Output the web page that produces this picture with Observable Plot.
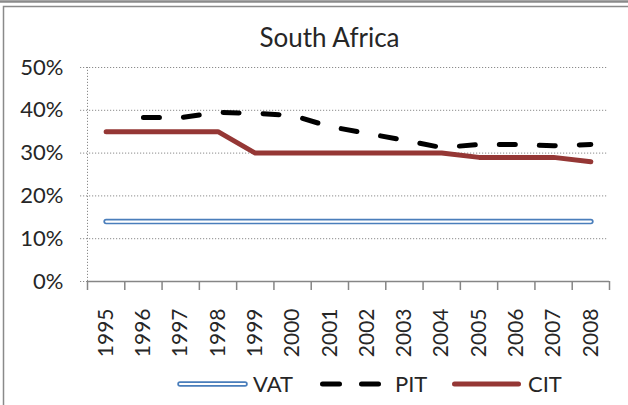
<!DOCTYPE html>
<html><head><meta charset="utf-8">
<script src="https://cdn.jsdelivr.net/npm/d3@7"></script>
<script src="https://cdn.jsdelivr.net/npm/@observablehq/plot@0.6"></script>
<style>
body{margin:0;background:#fff}
#chart svg{display:block}
</style>
</head><body><div id="chart"></div>
<script>
const title = "South Africa";
const years = [1995,1996,1997,1998,1999,2000,2001,2002,2003,2004,2005,2006,2007,2008];
const vat = [14,14,14,14,14,14,14,14,14,14,14,14,14,14];
const pit = [null,38.3,38.3,39.5,39.3,38.8,36.2,34.6,33.0,31.3,32.0,32.0,31.7,32.0];
const cit = [35,35,35,35,30,30,30,30,30,30,29,29,29,28];
const yTicks = [0,10,20,30,40,50];
const seriesNames = ["VAT","PIT","CIT"];

const rows = years.map((y,i)=>({year:y, vat:vat[i], pit:pit[i], cit:cit[i]}));
const bounds = [years[0]-0.5, ...years.map(y=>y+0.5)];
const FONT = "Lato, 'Open Sans', sans-serif";
const TXT = "#262626";
const BLUE = "#4A7EBB", RED = "#953735";

const chart = Plot.plot({
  width: 628, height: 405,
  marginLeft: 87, marginRight: 19, marginTop: 67, marginBottom: 124,
  style: {fontFamily: FONT, background: "#fff", color: TXT},
  x: {type: "linear", domain: [bounds[0], bounds[bounds.length-1]], label: null},
  y: {domain: [0, 50], label: null},
  marks: [
    Plot.ruleY(yTicks.filter(d=>d>0), {y: d=>d, stroke: "#8c8c8c", strokeDasharray: "1.2,1.8", insetLeft: -7, insetRight: 2}),
    Plot.ruleY([0], {y: d=>d, stroke: "#8c8c8c", strokeDasharray: "1.2,1.8", x1: bounds[0], x2: bounds[0], insetLeft: -7}),
    Plot.ruleX([bounds[0]], {x: d=>d, y1: 0, y2: 50, stroke: "#8c8c8c", strokeDasharray: "1.2,1.8"}),
    Plot.axisY(yTicks, {tickSize: 0, tickPadding: 24, tickFormat: d => d + "%", fontSize: 22, fill: TXT, label: null}),
    Plot.ruleY([0], {y: d=>d, stroke: "#868686", strokeWidth: 1.5}),
    Plot.axisX(bounds, {tickSize: 9, tickFormat: () => "", stroke: "#868686", strokeWidth: 1.5, label: null}),
    Plot.axisX(years, {tickSize: 0, tickPadding: 27, tickRotate: -90, tickFormat: d => String(d), fontSize: 21, fill: TXT, label: null}),
    Plot.line(rows, {x: "year", y: "vat", stroke: BLUE, strokeWidth: 5.5, strokeLinecap: "round"}),
    Plot.line(rows, {x: "year", y: "vat", stroke: "#fff", strokeWidth: 2.2, strokeLinecap: "round"}),
    Plot.line(rows, {x: "year", y: "pit", stroke: "#000", strokeWidth: 5, strokeDasharray: "16,24", strokeLinecap: "round", strokeLinejoin: "round"}),
    Plot.line(rows, {x: "year", y: "cit", stroke: RED, strokeWidth: 5, strokeLinecap: "round", strokeLinejoin: "round"}),
    Plot.text([title], {frameAnchor: "top", dx: -19, dy: -29, lineAnchor: "middle", fontSize: 26, fill: TXT})
  ]
});
document.getElementById("chart").appendChild(chart);

// frame
const svg = d3.select(chart);
svg.append("line").attr("x1",0).attr("x2",628).attr("y1",1.5).attr("y2",1.5).attr("stroke","#8a8a8a").attr("stroke-width",2.5);
svg.append("path").attr("d","M3.5,405V6.5H628").attr("fill","none").attr("stroke","#8a8a8a").attr("stroke-width",1.5);

// legend
const lg = svg.append("g").attr("font-family", FONT).attr("font-size", 22).attr("fill", TXT).attr("text-anchor", "start");
const ly = 384;
const items = [
  {name: seriesNames[0], x1: 178, x2: 247, tx: 253},
  {name: seriesNames[1], x1: 320, x2: 380, tx: 395},
  {name: seriesNames[2], x1: 452, x2: 521, tx: 528}
];
// VAT
lg.append("line").attr("x1",items[0].x1+2).attr("x2",items[0].x2-2).attr("y1",ly).attr("y2",ly).attr("stroke",BLUE).attr("stroke-width",5.5).attr("stroke-linecap","round");
lg.append("line").attr("x1",items[0].x1+2).attr("x2",items[0].x2-2).attr("y1",ly).attr("y2",ly).attr("stroke","#fff").attr("stroke-width",2.2).attr("stroke-linecap","round");
// PIT
lg.append("line").attr("x1",items[1].x1+2.5).attr("x2",items[1].x2).attr("y1",ly).attr("y2",ly).attr("stroke","#000").attr("stroke-width",5).attr("stroke-dasharray","17,22").attr("stroke-linecap","round");
// CIT
lg.append("line").attr("x1",items[2].x1+2.5).attr("x2",items[2].x2-2.5).attr("y1",ly).attr("y2",ly).attr("stroke",RED).attr("stroke-width",5).attr("stroke-linecap","round");
items.forEach(it => lg.append("text").attr("x", it.tx).attr("y", ly).attr("dy","0.35em").text(it.name));
</script>
</body></html>
